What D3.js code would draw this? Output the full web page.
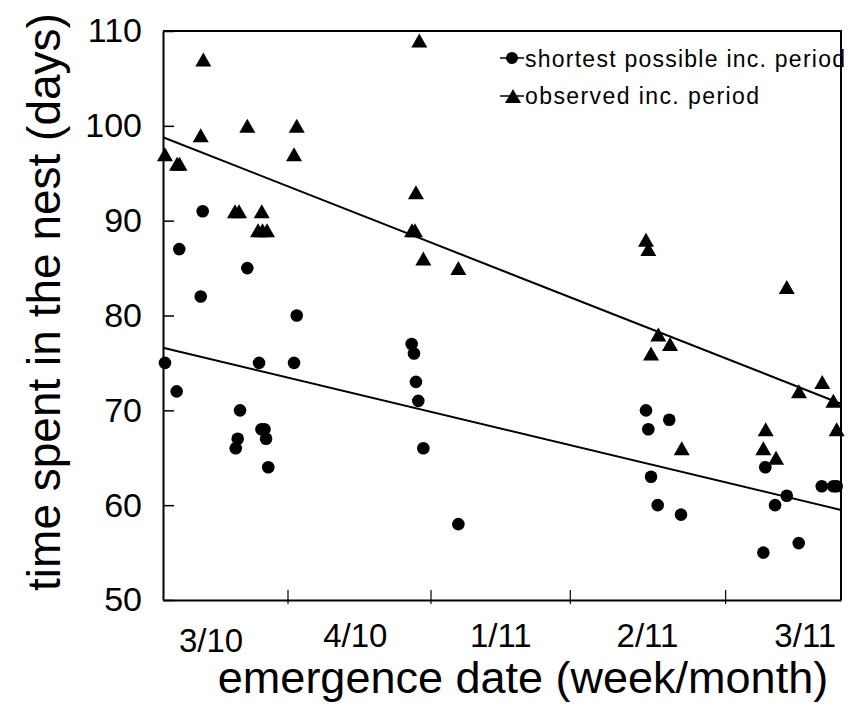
<!DOCTYPE html>
<html>
<head>
<meta charset="utf-8">
<script src="https://cdn.jsdelivr.net/npm/d3@7"></script>
<style>
  body { margin: 0; background: #fff; }
  svg { display: block; font-family: Arial, "Liberation Sans", sans-serif; }
</style>
</head>
<body>
<script>
// x is emergence date in days from the start of the plotted range
var xTicks = [10.1, 21.7, 33.0, 45.6];
var xLabelPos = [3.9, 15.6, 27.4, 39.3, 52.1];
var xLabels = ['3/10', '4/10', '1/11', '2/11', '3/11'];
var yTicks = [50, 60, 70, 80, 90, 100, 110];

var observedX = [0.16, 1.14, 1.34, 3.27, 3.06, 5.84, 6.17, 8.01, 6.84, 7.71, 8.07, 8.44,
  10.85, 10.63, 20.79, 20.52, 20.2, 20.44, 21.12, 23.96, 39.18, 39.37, 39.59, 40.18,
  41.13, 42.08, 48.89, 48.7, 49.73, 50.6, 51.59, 53.48, 54.38, 54.65];
var observedY = [97, 96, 96, 107, 99, 91, 91, 91, 100, 89, 89, 89,
  100, 97, 109, 93, 89, 89, 86, 85, 88, 87, 76, 78,
  77, 66, 68, 66, 65, 83, 72, 73, 71, 68];

var shortestX = [0.16, 1.11, 1.32, 3.22, 3.06, 6.84, 5.9, 6.06, 6.25, 7.79, 7.99, 8.23,
  8.36, 8.54, 10.63, 10.85, 20.17, 20.36, 20.52, 20.71, 21.12, 23.96, 39.18, 39.37,
  39.59, 40.13, 41.07, 42.02, 48.7, 48.86, 49.65, 50.6, 51.57, 53.44, 54.38, 54.65];
var shortestY = [75, 72, 87, 91, 82, 85, 66, 67, 70, 75, 68, 68,
  67, 64, 75, 80, 77, 76, 73, 71, 66, 58, 70, 68,
  63, 60, 69, 59, 55, 64, 60, 61, 56, 62, 62, 62];

// fitted trend lines, value at both ends of the range
var trendX = [0, 55];
var observedTrend = [98.8, 70.7];
var shortestTrend = [76.6, 59.5];

var chart = function() {
  var width = 849;
  var height = 709;
  var left = 163, right = 841, top = 31, bottom = 600;
  var svg, x, y;

  var trianglePath = 'M0,-7L8,7L-8,7Z';

  var createSvg = function() {
    svg = d3.select('body').append('svg')
      .attr('width', width)
      .attr('height', height);
    x = d3.scaleLinear().domain([0, 55]).range([left, right]);
    y = d3.scaleLinear().domain([50, 110]).range([bottom, top]);
  };

  var drawAxes = function() {
    // top and right frame
    svg.append('path')
      .attr('d', 'M' + left + ',' + top + 'H' + right + 'V' + bottom)
      .style('fill', 'none')
      .style('stroke', '#000')
      .style('stroke-width', 2);

    var yAxis = svg.append('g')
      .attr('transform', 'translate(' + left + ',0)')
      .call(d3.axisLeft(y).tickValues(yTicks).tickSize(-11).tickSizeOuter(0).tickPadding(21));
    yAxis.select('.domain').style('stroke', '#000').style('stroke-width', 2);
    yAxis.selectAll('.tick line').style('stroke', '#000').style('stroke-width', 1.5);
    yAxis.selectAll('.tick text')
      .style('font-size', '34px')
      .style('font-family', 'Arial, "Liberation Sans", sans-serif')
      .style('fill', '#000');

    var xAxis = svg.append('g')
      .attr('transform', 'translate(0,' + bottom + ')')
      .call(d3.axisBottom(x).tickValues(xTicks).tickFormat('').tickSize(-10).tickSizeOuter(0));
    xAxis.select('.domain').style('stroke', '#000').style('stroke-width', 2);
    xAxis.selectAll('.tick line')
      .attr('y1', 4)
      .style('stroke', '#000')
      .style('stroke-width', 1.2);

    svg.append('g').selectAll('text')
      .data(xLabels)
      .enter().append('text')
      .attr('x', function(d, i) { return x(xLabelPos[i]); })
      .attr('y', function(d, i) { return i === 0 ? 652 : 647; })
      .attr('text-anchor', 'middle')
      .style('font-size', '33px')
      .text(function(d) { return d; });

    svg.append('text')
      .attr('x', 523)
      .attr('y', 693)
      .attr('text-anchor', 'middle')
      .style('font-size', '45px')
      .text('emergence date (week/month)');

    svg.append('text')
      .attr('transform', 'translate(60,302) rotate(-90)')
      .attr('text-anchor', 'middle')
      .style('font-size', '46px')
      .text('time spent in the nest (days)');
  };

  var drawTrends = function() {
    var line = d3.line()
      .x(function(d) { return x(d[0]); })
      .y(function(d) { return y(d[1]); });
    [observedTrend, shortestTrend].forEach(function(t) {
      svg.append('path')
        .datum(trendX.map(function(v, i) { return [v, t[i]]; }))
        .attr('d', line)
        .style('fill', 'none')
        .style('stroke', '#000')
        .style('stroke-width', 2);
    });
  };

  var drawPoints = function() {
    svg.append('g').selectAll('circle')
      .data(shortestX)
      .enter().append('circle')
      .attr('cx', function(d) { return x(d); })
      .attr('cy', function(d, i) { return y(shortestY[i]); })
      .attr('r', 6.3)
      .style('fill', '#000');

    svg.append('g').selectAll('path')
      .data(observedX)
      .enter().append('path')
      .attr('d', trianglePath)
      .attr('transform', function(d, i) {
        return 'translate(' + x(d) + ',' + y(observedY[i]) + ')';
      })
      .style('fill', '#000');
  };

  var drawLegend = function() {
    var g = svg.append('g');
    g.append('line').attr('x1', 500).attr('x2', 524).attr('y1', 58).attr('y2', 58)
      .style('stroke', '#000').style('stroke-width', 1.5);
    g.append('circle').attr('cx', 512).attr('cy', 58).attr('r', 6).style('fill', '#000');
    g.append('text').attr('x', 525).attr('y', 67)
      .attr('textLength', 320).attr('lengthAdjust', 'spacing')
      .style('font-size', '23px')
      .text('shortest possible inc. period');

    g.append('line').attr('x1', 500).attr('x2', 524).attr('y1', 96).attr('y2', 96)
      .style('stroke', '#000').style('stroke-width', 1.5);
    g.append('path').attr('d', trianglePath)
      .attr('transform', 'translate(513,96)')
      .style('fill', '#000');
    g.append('text').attr('x', 525).attr('y', 104)
      .attr('textLength', 234).attr('lengthAdjust', 'spacing')
      .style('font-size', '23px')
      .text('observed inc. period');
  };

  return {
    createSvg: createSvg,
    drawAxes: drawAxes,
    drawTrends: drawTrends,
    drawPoints: drawPoints,
    drawLegend: drawLegend
  };
}();

chart.createSvg();
chart.drawAxes();
chart.drawTrends();
chart.drawPoints();
chart.drawLegend();
</script>
</body>
</html>
